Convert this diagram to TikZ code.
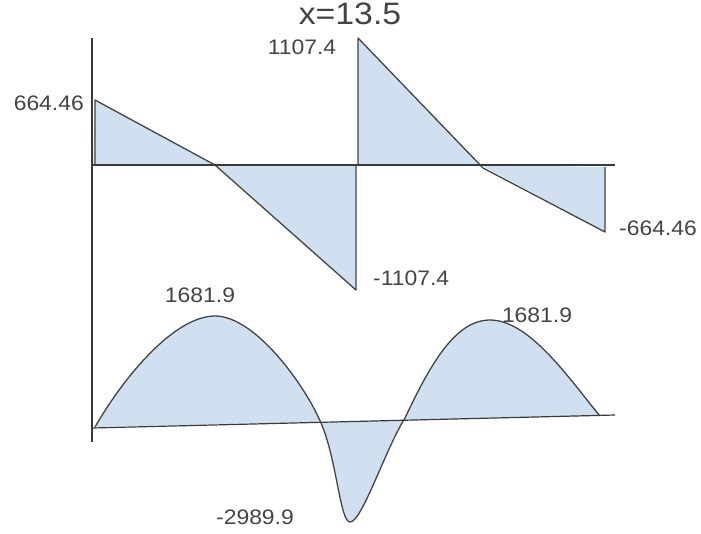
\documentclass[tikz,border=0pt]{standalone}
\usepackage{fontspec}
\setmainfont{Liberation Sans}
\newfontfamily\valfont{Liberation Sans}[FakeStretch=1.09]
\definecolor{Ink}{HTML}{444444}
\definecolor{Sky}{HTML}{D0E0F0}
\definecolor{Rule}{HTML}{3A3A3A}

\begin{document}
\begin{tikzpicture}[x=1pt,y=-1pt,line join=round,
    val/.style={text=Ink,font=\valfont\fontsize{21}{21}\selectfont,inner sep=0pt}]
  \useasboundingbox (0,0) rectangle (701,533);
  \fill[Sky] (93,165) -- (95,100) -- (215,165) -- cycle;
  \fill[Sky] (215,165) -- (356,290) -- (356,165) -- cycle;
  \fill[Sky] (358,165) -- (358,38) -- (481,165) -- cycle;
  \fill[Sky] (481,165) -- (605,232) -- (605,167) -- cycle;
  \draw[Ink,line width=1.3pt] (95,165) -- (95,100) -- (215,165) -- (356,290) -- (356,165);
  \draw[Ink,line width=1.3pt] (358,165) -- (358,38) -- (483,168) -- (605,232) -- (605,167);
  \draw[Rule,line width=2.2pt] (92,165) -- (615,165);
  \draw[Rule,line width=1.2pt] (92,38) -- (92,442);
  \fill[Sky] (95,427) .. controls (125,375) and (175,316) .. (215,316)
    .. controls (255,316) and (305,385) .. (321,423)
    .. controls (337,460) and (340,522) .. (350,522)
    .. controls (362,522) and (385,450) .. (405,418)
    .. controls (430,365) and (455,320) .. (490,320)
    .. controls (530,320) and (570,380) .. (600,416) -- cycle;
  \draw[Ink,line width=1.3pt] (95,427) .. controls (125,375) and (175,316) .. (215,316)
    .. controls (255,316) and (305,385) .. (321,423)
    .. controls (337,460) and (340,522) .. (350,522)
    .. controls (362,522) and (385,450) .. (405,418)
    .. controls (430,365) and (455,320) .. (490,320)
    .. controls (530,320) and (570,380) .. (600,416);
  \draw[Rule,line width=1.2pt] (92,428) -- (615,415);
  \node[text=Ink,font=\valfont\fontsize{31}{31}\selectfont,inner sep=0pt] (title) at (350,14) {x=13.5};
  \node[val,anchor=east] (vA) at (84,103) {664.46};
  \node[val] (vB) at (302,47) {1107.4};
  \node[val,anchor=west] (vC) at (373,278) {-1107.4};
  \node[val,anchor=west] (vD) at (619,228) {-664.46};
  \node[val] (mA) at (200,295) {1681.9};
  \node[val] (mB) at (537,315) {1681.9};
  \node[val] (mC) at (255,517) {-2989.9};
\end{tikzpicture}
\end{document}
